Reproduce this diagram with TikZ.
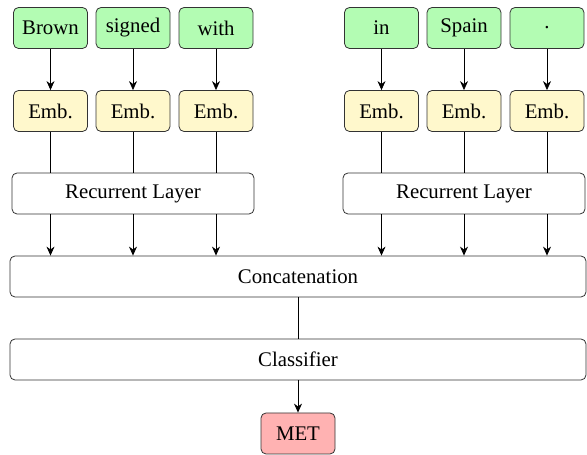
\documentclass[tikz,border=0pt]{standalone}
\usepackage{fontspec}
\setmainfont{Liberation Serif}
\usepackage{tikz}
\usetikzlibrary{positioning,arrows.meta}
\definecolor{wordgreen}{RGB}{179,252,179}
\definecolor{embyellow}{RGB}{255,248,204}
\definecolor{outred}{RGB}{255,178,178}

\begin{document}
\begin{tikzpicture}[x=1pt,y=1pt,
  box/.style={draw=black!80,line width=0.8pt,rounded corners=5pt,inner sep=0pt,
    minimum height=41pt,font=\fontsize{20.8}{25}\selectfont},
  word/.style={box,fill=wordgreen,minimum width=74pt},
  emb/.style={box,fill=embyellow,minimum width=74pt},
  wide/.style={box,fill=white},
  arr/.style={-{Stealth[length=9pt,width=8pt]},line width=0.8pt},
  ln/.style={line width=0.8pt}]
\useasboundingbox (0,0) rectangle (587,455);
% Words
\node[word] (w1) at (50.5,427) {Brown};
\node[word] (w2) at (133,427) {signed};
\node[word] (w3) at (216,427) {with};
\node[word] (w4) at (381.5,427) {in};
\node[word] (w5) at (464,427) {Spain};
\node[word] (w6) at (547,427) {.};

% Embeddings
\node[emb] (e1) at (50.5,344) {Emb.};
\node[emb] (e2) at (133,344) {Emb.};
\node[emb] (e3) at (216,344) {Emb.};
\node[emb] (e4) at (381.5,344) {Emb.};
\node[emb] (e5) at (464,344) {Emb.};
\node[emb] (e6) at (547,344) {Emb.};

% Recurrent layers, concat, classifier
\node[wide,minimum width=242pt] (rnnL) at (133,261.5) {Recurrent Layer};
\node[wide,minimum width=242pt] (rnnR) at (464,261.5) {Recurrent Layer};
\node[wide,minimum width=576pt] (concat) at (298,178.5) {Concatenation};
\node[wide,minimum width=576pt] (clf) at (298,95.5) {Classifier};
\node[box,fill=outred,minimum width=74pt] (met) at (298,21.5) {MET};

% Words to embeddings
\draw[arr] (w1) -- (e1);
\draw[arr] (w2) -- (e2);
\draw[arr] (w3) -- (e3);
\draw[arr] (w4) -- (e4);
\draw[arr] (w5) -- (e5);
\draw[arr] (w6) -- (e6);

% Embeddings into recurrent layers
\draw[ln] (e1) -- (e1 |- rnnL.north);
\draw[ln] (e2) -- (e2 |- rnnL.north);
\draw[ln] (e3) -- (e3 |- rnnL.north);
\draw[ln] (e4) -- (e4 |- rnnR.north);
\draw[ln] (e5) -- (e5 |- rnnR.north);
\draw[ln] (e6) -- (e6 |- rnnR.north);

% Recurrent outputs to concatenation
\draw[arr] (e1 |- rnnL.south) -- (e1 |- concat.north);
\draw[arr] (e2 |- rnnL.south) -- (e2 |- concat.north);
\draw[arr] (e3 |- rnnL.south) -- (e3 |- concat.north);
\draw[arr] (e4 |- rnnR.south) -- (e4 |- concat.north);
\draw[arr] (e5 |- rnnR.south) -- (e5 |- concat.north);
\draw[arr] (e6 |- rnnR.south) -- (e6 |- concat.north);

\draw[ln] (concat) -- (clf);
\draw[arr] (clf) -- (met);
\end{tikzpicture}
\end{document}
